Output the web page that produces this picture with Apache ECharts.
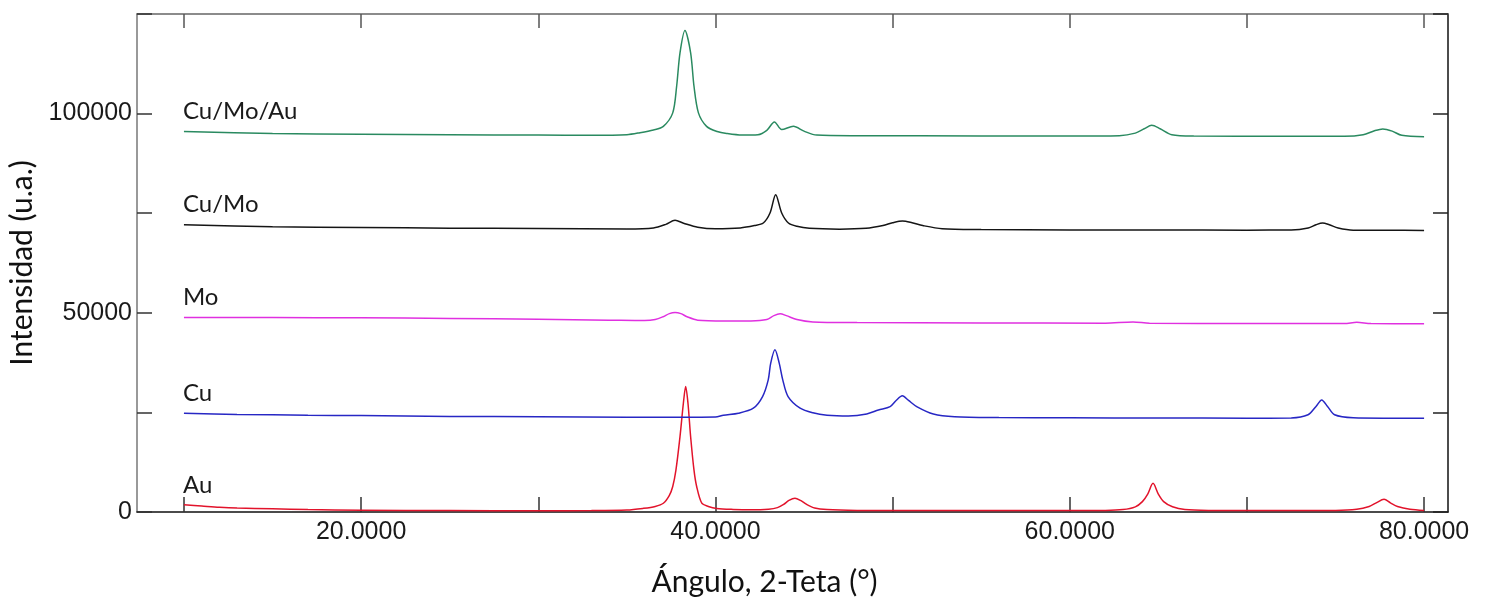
<!DOCTYPE html>
<html>
<head>
<meta charset="utf-8">
<script src="https://cdn.jsdelivr.net/npm/echarts@6/dist/echarts.min.js"></script>
<style>
  html, body { margin: 0; padding: 0; background: #fff; }
  #chart { width: 1485px; height: 608px; }
</style>
</head>
<body>
<div id="chart"></div>
<script>
// XRD patterns, intensity (u.a.) vs 2-theta (deg), offset vertically per sample
const sampleNames = ['Au', 'Cu', 'Mo', 'Cu/Mo', 'Cu/Mo/Au'];

const au = [
  [10,1800],[11,1500],[12,1200],[13,1000],[15,800],[17,600],[20,450],[25,350],[30,320],[33,350],
  [35,500],[35.9,900],[36.6,1400],[37.06,2200],[37.4,4200],[37.59,6400],[37.77,10500],[38.0,18900],
  [38.19,27300],[38.32,31500],[38.45,27300],[38.6,18900],[38.79,10500],[38.94,6400],[39.23,2200],
  [39.6,1400],[40.07,900],[41,650],[42,550],[43,700],[43.5,1100],[43.85,1900],[44.15,2900],[44.49,3450],
  [44.8,2900],[45.15,1900],[45.6,1000],[46.3,600],[48,400],[52,350],[58,350],[62,400],[63,600],
  [63.7,1300],[64.1,2600],[64.4,4500],[64.7,7200],[65.0,4500],[65.3,2600],[65.8,1300],[66.5,600],
  [68,400],[72,350],[75,400],[76.2,700],[76.9,1400],[77.3,2300],[77.74,3200],[78.1,2300],[78.5,1400],
  [79.2,700],[80,400]
];

const cu = [
  [10,24800],[13,24500],[17,24300],[20,24200],[25,24000],[30,23900],[35,23800],[38,23800],[40,23850],
  [40.45,24300],[41.3,24800],[42.14,26050],[42.66,28970],[42.98,33170],[43.12,37360],[43.36,40700],
  [43.6,37360],[43.8,33170],[44.1,28970],[44.78,26050],[45.5,24900],[46.3,24300],[47.5,24100],
  [48.54,24600],[49.2,25600],[49.86,26460],[50.2,28000],[50.55,29150],[50.9,28000],[51.36,26460],
  [52.3,24600],[53.5,23900],[56,23700],[60,23650],[65,23600],[70,23550],[72.5,23600],[73.45,24400],
  [73.9,26500],[74.22,28140],[74.55,26500],[74.95,24400],[76,23650],[78,23550],[80,23540]
];

const mo = [
  [10,48830],[15,48800],[20,48750],[25,48600],[30,48350],[34,48150],[36,48050],[36.6,48300],
  [37.04,49000],[37.4,49800],[37.72,50080],[38.05,49800],[38.4,49000],[39,48150],[40.5,47950],
  [42,47950],[42.9,48300],[43.3,49300],[43.65,49750],[44.0,49300],[44.6,48300],[45.5,47700],
  [48,47550],[55,47450],[62,47400],[63.57,47700],[64.5,47400],[70,47300],[75.5,47300],[76.2,47600],
  [77,47300],[80,47240]
];

const cuMo = [
  [10,72110],[15,71600],[20,71430],[25,71250],[30,71150],[35,71050],[36.5,71300],[37.2,72200],
  [37.72,73200],[38.2,72500],[39,71500],[40,71100],[41.4,71300],[42.2,71900],[42.7,72540],
  [43.08,75050],[43.4,79650],[43.74,75050],[44.12,72540],[44.6,71700],[45.3,71200],[47,71000],
  [48.5,71200],[49.46,71900],[50.0,72600],[50.56,73040],[51.1,72600],[51.7,71900],[52.8,71100],
  [55,70900],[60,70800],[65,70800],[70,70750],[72.5,70800],[73.46,71300],[73.9,72100],[74.27,72540],
  [74.65,72100],[75.15,71300],[76,70750],[78,70700],[80,70680]
];

const cuMoAu = [
  [10,95480],[15,95000],[20,94800],[25,94700],[30,94600],[33,94550],[35.0,94700],[35.74,95200],
  [36.5,95900],[37.06,96800],[37.59,100180],[37.81,106860],[38.0,115250],[38.28,120860],[38.6,115250],
  [38.79,106860],[39.04,100180],[39.5,96800],[40.1,95500],[40.63,95000],[41.5,94600],[42.4,94700],
  [42.9,95800],[43.33,97910],[43.74,95980],[44.4,96810],[45.0,95600],[45.72,94600],[48,94450],
  [55,94400],[60,94350],[62.8,94450],[63.7,95100],[64.2,96200],[64.63,97060],[65.1,96200],
  [65.76,94700],[67,94350],[72,94300],[75.5,94300],[76.56,94700],[77.2,95700],[77.67,96150],
  [78.2,95600],[78.74,94550],[80,94220]
];

const xTicks = [10, 20, 30, 40, 50, 60, 70, 80];
const xTickLabels = [20, 40, 60, 80];
const yTickLabels = [0, 50000, 100000];

const seriesData = [au, cu, mo, cuMo, cuMoAu];
const seriesColors = ['#e2132b', '#2727c4', '#e030e0', '#151515', '#2a8a60'];

const labelFont = 'Lato, "Open Sans", sans-serif';
const tickFont = '"Liberation Sans", Arial, sans-serif';

const chart = echarts.init(document.getElementById('chart'), null, { renderer: 'canvas' });

const series = seriesData.map((d, i) => ({
  name: sampleNames[i],
  type: 'line',
  data: d,
  showSymbol: false,
  smooth: 0.3,
  lineStyle: { color: seriesColors[i], width: 1.5 },
  itemStyle: { color: seriesColors[i] },
  z: 3,
  silent: true,
  markPoint: {
    symbol: 'circle',
    symbolSize: 0,
    silent: true,
    data: [{
      coord: [d[0][0], d[0][1]],
      label: {
        show: true,
        formatter: sampleNames[i],
        position: [-1, -20],
        align: 'left',
        verticalAlign: 'middle',
        color: '#1a1a1a',
        fontSize: 24,
        fontFamily: labelFont
      }
    }]
  }
}));

chart.setOption({
  animation: false,
  backgroundColor: '#ffffff',
  grid: { left: 137, right: 37, top: 14, bottom: 96, containLabel: false, outerBoundsMode: 'none' },
  xAxis: [{
    type: 'value',
    position: 'bottom',
    min: 7.35,
    max: 81.35,
    name: 'Ángulo, 2-Teta (°)',
    nameLocation: 'middle',
    nameGap: 55,
    nameTextStyle: { fontSize: 30, fontFamily: labelFont, color: '#111', padding: [0, 56, 0, 0] },
    axisLine: { show: true, lineStyle: { color: '#111', width: 1.5 } },
    axisTick: { show: true, inside: true, length: 15, customValues: xTicks, lineStyle: { color: '#333', width: 1.5 } },
    axisLabel: {
      customValues: xTickLabels,
      formatter: v => v.toFixed(4),
      fontSize: 25, fontFamily: tickFont, color: '#1a1a1a', margin: 8
    },
    splitLine: { show: false }
  }, {
    type: 'value',
    position: 'top',
    min: 7.35,
    max: 81.35,
    axisLine: { show: true, onZero: false, lineStyle: { color: '#666', width: 1.5 } },
    axisTick: { show: true, inside: true, length: 14, customValues: xTicks, lineStyle: { color: '#555', width: 1.5 } },
    axisLabel: { show: false },
    splitLine: { show: false }
  }],
  yAxis: [{
    type: 'value',
    position: 'left',
    min: 0,
    max: 125000,
    interval: 25000,
    name: 'Intensidad (u.a.)',
    nameLocation: 'middle',
    nameGap: 100,
    nameTextStyle: { fontSize: 30, fontFamily: labelFont, color: '#111' },
    axisLine: { show: true, lineStyle: { color: '#777', width: 1.5 } },
    axisTick: { show: true, inside: true, length: 15, lineStyle: { color: '#333', width: 1.5 } },
    axisLabel: {
      customValues: yTickLabels,
      formatter: v => String(v),
      fontSize: 25, fontFamily: tickFont, color: '#1a1a1a', margin: 5
    },
    splitLine: { show: false }
  }, {
    type: 'value',
    position: 'right',
    min: 0,
    max: 125000,
    interval: 25000,
    axisLine: { show: true, onZero: false, lineStyle: { color: '#111', width: 1.5 } },
    axisTick: { show: true, inside: true, length: 15, lineStyle: { color: '#222', width: 1.5 } },
    axisLabel: { show: false },
    splitLine: { show: false }
  }],
  series: series
});
</script>
</body>
</html>
